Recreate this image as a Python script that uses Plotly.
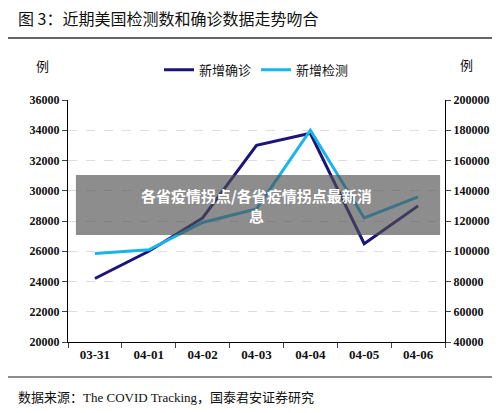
import plotly.graph_objects as go

dates = ["03-31", "04-01", "04-02", "04-03", "04-04", "04-05", "04-06"]
confirmed = [24200, 26000, 28200, 33000, 33800, 26500, 29000]
tests = [98500, 101000, 119000, 128000, 180000, 122000, 136000]

F = "Liberation Serif, Noto Sans CJK SC"
fig = go.Figure()
fig.add_trace(go.Scatter(x=dates, y=confirmed, name="新增确诊", mode="lines",
                         line=dict(color="#1c1577", width=3)))
fig.add_trace(go.Scatter(x=dates, y=tests, name="新增检测", mode="lines",
                         line=dict(color="#18b4ec", width=3), yaxis="y2"))
fig.update_layout(
    width=500, height=413, margin=dict(l=60, r=63, t=92, b=79, autoexpand=False),
    paper_bgcolor="white", plot_bgcolor="white", font=dict(family=F, size=13, color="#111"),
    showlegend=True,
    legend=dict(orientation="h", x=0.5, xanchor="center", y=1.125, yanchor="middle",
                font=dict(size=13, family="Noto Sans CJK SC")),
    xaxis=dict(type="category", showline=True, linecolor="black", ticks="outside",
               tickson="boundaries", tickfont=dict(size=13, family=F, color="#111", weight="bold"),
               range=[-0.5, 6.5], automargin=False),
    yaxis=dict(range=[20000, 36000], dtick=2000, tickformat="d", showline=True, linecolor="black",
               ticks="outside", gridcolor="#ddd", griddash="dash",
               tickfont=dict(size=12, family=F, weight="bold"), zeroline=False, automargin=False),
    yaxis2=dict(range=[40000, 200000], dtick=20000, tickformat="d", overlaying="y", side="right",
                showline=True, linecolor="black", ticks="outside", showgrid=False,
                tickfont=dict(size=12, family=F, weight="bold"), zeroline=False, automargin=False),
)
fig.add_shape(type="line", xref="paper", yref="paper", x0=-0.16, x1=1.17, y0=1.256, y1=1.256,
              line=dict(color="#666", width=2))
fig.add_shape(type="line", xref="paper", yref="paper", x0=-0.16, x1=1.17, y0=-0.145, y1=-0.145,
              line=dict(color="#666", width=1.5))
fig.add_annotation(text="图 3：近期美国检测数和确诊数据走势吻合", xref="paper", yref="paper",
                   x=-0.138, y=1.34, xanchor="left", yanchor="middle", showarrow=False,
                   font=dict(size=16, family="Noto Sans CJK SC"))
fig.add_annotation(text="例", xref="paper", yref="paper", x=-0.09, y=1.19, showarrow=False,
                   font=dict(size=13, family="Noto Sans CJK SC"))
fig.add_annotation(text="例", xref="paper", yref="paper", x=1.08, y=1.195, showarrow=False,
                   font=dict(size=13, family="Noto Sans CJK SC"))
fig.add_annotation(text="数据来源：The COVID Tracking，国泰君安证券研究", xref="paper", yref="paper",
                   x=-0.138, y=-0.231, xanchor="left", yanchor="middle", showarrow=False,
                   font=dict(size=13, family=F))
fig.add_shape(type="rect", xref="paper", yref="paper", x0=0.021, x1=0.987, y0=0.442, y1=0.69,
              fillcolor="rgba(80,80,80,0.65)", line=dict(width=0))
fig.add_annotation(text="各省疫情拐点/各省疫情拐点最新消<br>息", xref="paper", yref="paper",
                   x=0.5, y=0.566, showarrow=False,
                   font=dict(size=15, color="white", family="Noto Sans CJK SC", weight="bold"))
fig.write_html("out.html")
